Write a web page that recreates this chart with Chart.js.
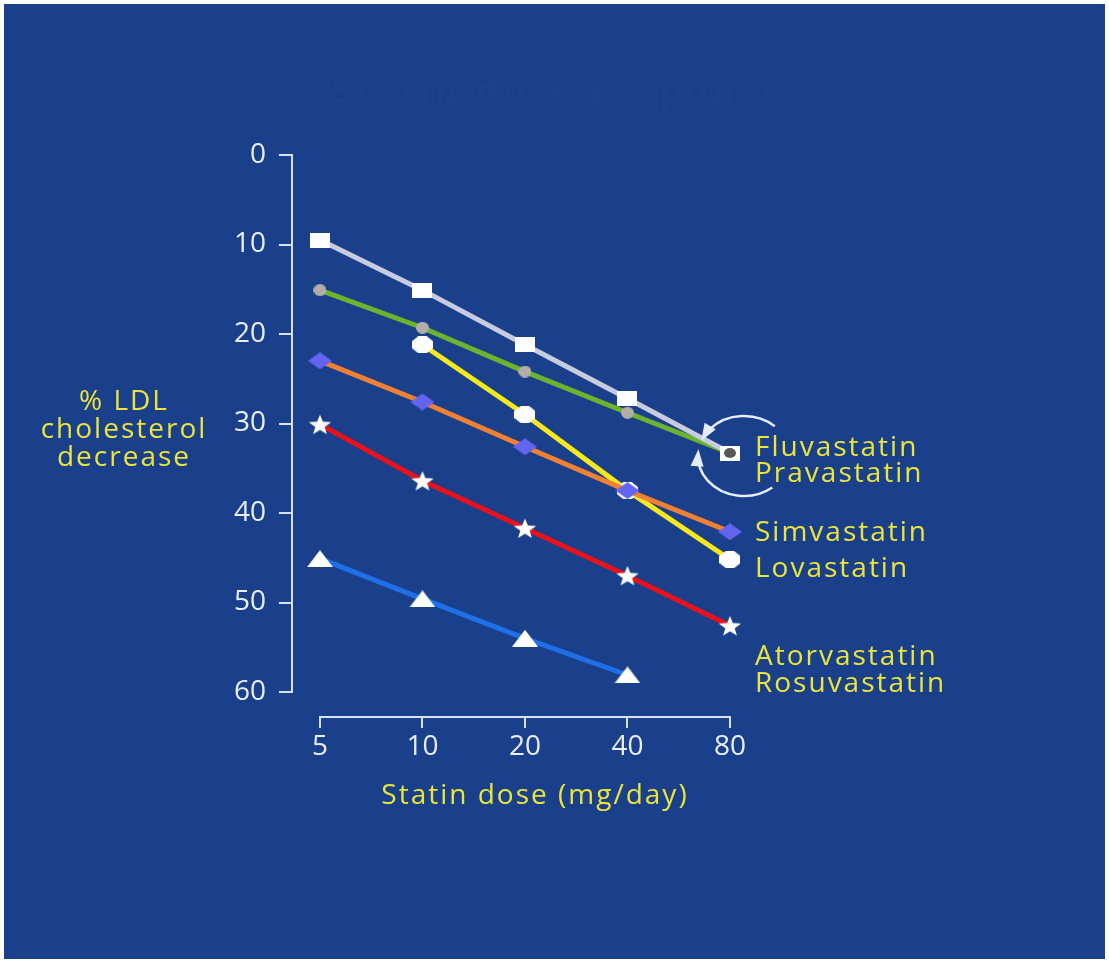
<!DOCTYPE html>
<html>
<head>
<meta charset="utf-8">
<title>Statin dose-response</title>
<script src="https://cdn.jsdelivr.net/npm/chart.js@4.4.1/dist/chart.umd.min.js"></script>
<style>
  html, body { margin: 0; padding: 0; background: #ffffff; }
  #wrap { position: absolute; left: 0; top: 0; width: 1109px; height: 963px; }
  canvas { display: block; }
</style>
</head>
<body>
<div id="wrap"><canvas id="chart" width="1109" height="963"></canvas></div>
<script>
// Dose categories (mg/day) and their tick labels
const doses = [5, 10, 20, 40, 80];
const doseLabels = ['5', '10', '20', '40', '80'];
const yTicks = [0, 10, 20, 30, 40, 50, 60];

// % LDL cholesterol decrease per dose (null = dose not available)
const fluvastatin  = [9.5, 15.1, 21.2, 27.2, 33.3];
const pravastatin  = [15.1, 19.3, 24.2, 28.8, 33.3];
const simvastatin  = [23.0, 27.6, 32.6, 37.5, 42.1];
const lovastatin   = [null, 21.2, 29.0, 37.5, 45.2];
const atorvastatin = [30.1, 36.4, 41.7, 47.0, 52.6];
const rosuvastatin = [45.1, 49.6, 54.0, 58.1, null];

const BG = '#1a408b';
const AXIS = '#d9e1f1';
const TICK_TEXT = '#e9eef8';
const YELLOW = '#ebe43a';
const FONT = '"Open Sans", "DejaVu Sans", sans-serif';

// ---- marker images ----
function marker(w, h, paint) {
  const c = document.createElement('canvas');
  c.width = w; c.height = h;
  paint(c.getContext('2d'), w, h);
  return c;
}
const squareMark = marker(20, 15, (g, w, h) => { g.fillStyle = '#ffffff'; g.fillRect(0, 0, w, h); });
const dotMark = marker(13, 12, (g, w, h) => {
  g.fillStyle = '#b3afa8'; g.beginPath(); g.ellipse(w / 2, h / 2, w / 2, h / 2, 0, 0, Math.PI * 2); g.fill();
});
const darkDotMark = marker(12, 10, (g, w, h) => {
  g.fillStyle = '#575757'; g.beginPath(); g.ellipse(w / 2, h / 2, w / 2, h / 2, 0, 0, Math.PI * 2); g.fill();
});
const diamondMark = marker(24, 17, (g, w, h) => {
  g.fillStyle = '#6464f2'; g.beginPath();
  g.moveTo(w / 2, 0); g.lineTo(w, h / 2); g.lineTo(w / 2, h); g.lineTo(0, h / 2); g.closePath(); g.fill();
});
const octagonMark = marker(21, 17, (g, w, h) => {
  g.fillStyle = '#ffffff'; g.beginPath();
  const ix = w * 0.3, iy = h * 0.3;
  g.moveTo(ix, 0); g.lineTo(w - ix, 0); g.lineTo(w, iy); g.lineTo(w, h - iy);
  g.lineTo(w - ix, h); g.lineTo(ix, h); g.lineTo(0, h - iy); g.lineTo(0, iy);
  g.closePath(); g.fill();
});
const starMark = marker(24, 22, (g, w, h) => {
  g.fillStyle = '#ffffff'; g.beginPath();
  const R = 11.8, r = 4.9, cx = w / 2, cy = h / 2 + 1;
  for (let i = 0; i < 10; i++) {
    const a = -Math.PI / 2 + i * Math.PI / 5;
    const rad = i % 2 === 0 ? R : r;
    const px = cx + rad * Math.cos(a), py = cy + rad * Math.sin(a) * 0.92;
    if (i === 0) g.moveTo(px, py); else g.lineTo(px, py);
  }
  g.closePath(); g.fill();
});
const triangleMark = marker(26, 17, (g, w, h) => {
  g.fillStyle = '#ffffff'; g.beginPath();
  g.moveTo(w / 2, 0); g.lineTo(w, h); g.lineTo(0, h); g.closePath(); g.fill();
});

function points(values) {
  return doses.map((d, i) => ({ x: d, y: values[i] })).filter(p => p.y !== null);
}

function series(label, values, color, style, order) {
  return {
    label, data: points(values), borderColor: color, borderWidth: 5,
    pointStyle: style, pointRadius: 8, pointHoverRadius: 8,
    fill: false, tension: 0, order
  };
}

const pravaStyles = pravastatin.map((v, i) => i === pravastatin.length - 1 ? darkDotMark : dotMark);

const datasets = [
  series('Fluvastatin', fluvastatin, '#c9cce0', squareMark, 1),
  series('Pravastatin', pravastatin, '#6cb42e', pravaStyles, 2),
  series('Simvastatin', simvastatin, '#ef8034', diamondMark, 1),
  series('Lovastatin', lovastatin, '#f6e81e', octagonMark, 2),
  series('Atorvastatin', atorvastatin, '#e8121d', starMark, 1),
  series('Rosuvastatin', rosuvastatin, '#1e6fe8', triangleMark, 1)
];

// ---- decorations drawn around the plot ----
function spacedText(ctx, text, x, y, align, font, color, spacing) {
  ctx.save();
  ctx.font = font;
  ctx.fillStyle = color;
  ctx.textAlign = align;
  ctx.textBaseline = 'alphabetic';
  ctx.letterSpacing = spacing + 'px';
  ctx.fillText(text, align === 'center' ? x + spacing / 2 : x, y);
  ctx.restore();
}

function arrowHead(ctx, x, y, dx, dy) {
  const len = Math.hypot(dx, dy), ux = dx / len, uy = dy / len;
  const L = 13, W = 6.5;
  ctx.beginPath();
  ctx.moveTo(x + ux * 4, y + uy * 4);
  ctx.lineTo(x - ux * L + uy * W, y - uy * L - ux * W);
  ctx.lineTo(x - ux * L - uy * W, y - uy * L + ux * W);
  ctx.closePath();
  ctx.fill();
}

const backdrop = {
  id: 'backdrop',
  beforeDraw(chart) {
    const ctx = chart.ctx;
    ctx.save();
    ctx.fillStyle = '#ffffff';
    ctx.fillRect(0, 0, chart.width, chart.height);
    ctx.fillStyle = BG;
    ctx.fillRect(4, 4, 1101, 955);
    ctx.restore();
    // faint slide heading
    spacedText(ctx, 'Statin dose-response', 557, 103, 'center', 'bold 36px ' + FONT, '#1c428e', 4);
  }
};

const annotations = {
  id: 'annotations',
  afterDatasetsDraw(chart) {
    const ctx = chart.ctx;
    const xs = chart.scales.x, ys = chart.scales.y;

    // bring the shared 80 mg Pravastatin point on top of the Fluvastatin square
    const pm = chart.getDatasetMeta(1);
    const last = pm.data[pm.data.length - 1];
    if (last) last.draw(ctx, chart.chartArea);

    // horizontal dose axis with downward ticks
    const yBase = chart.chartArea.bottom + 25;
    const x0 = xs.getPixelForValue(doses[0]);
    const x1 = xs.getPixelForValue(doses[doses.length - 1]);
    ctx.save();
    ctx.strokeStyle = AXIS;
    ctx.lineWidth = 2;
    ctx.beginPath();
    ctx.moveTo(x0, yBase); ctx.lineTo(x1, yBase);
    doses.forEach(d => {
      const px = Math.round(xs.getPixelForValue(d));
      ctx.moveTo(px, yBase - 1); ctx.lineTo(px, yBase + 11);
    });
    ctx.stroke();
    ctx.restore();

    // axis titles
    const titleFont = '28px ' + FONT;
    spacedText(ctx, 'Statin dose (mg/day)', (x0 + x1) / 2 + 9, yBase + 87, 'center', titleFont, YELLOW, 2);
    const ly = ys.getPixelForValue(30.9);
    const lx = chart.chartArea.left - 169;
    spacedText(ctx, '% LDL', lx, ly - 22, 'center', titleFont, YELLOW, 2);
    spacedText(ctx, 'cholesterol', lx, ly + 6, 'center', titleFont, YELLOW, 2);
    spacedText(ctx, 'decrease', lx, ly + 34, 'center', titleFont, YELLOW, 2);

    // series names at the right end
    const nx = x1 + 25;
    const yF = ys.getPixelForValue(fluvastatin[4]);
    const yS = ys.getPixelForValue(simvastatin[4]);
    const yL = ys.getPixelForValue(lovastatin[4]);
    const yA = ys.getPixelForValue(atorvastatin[4]);
    spacedText(ctx, 'Fluvastatin', nx, yF + 3, 'left', titleFont, YELLOW, 2);
    spacedText(ctx, 'Pravastatin', nx, yF + 29, 'left', titleFont, YELLOW, 2);
    spacedText(ctx, 'Simvastatin', nx, yS + 9, 'left', titleFont, YELLOW, 2);
    spacedText(ctx, 'Lovastatin', nx, yL + 17, 'left', titleFont, YELLOW, 2);
    spacedText(ctx, 'Atorvastatin', nx, yA + 39, 'left', titleFont, YELLOW, 2);
    spacedText(ctx, 'Rosuvastatin', nx, yA + 66, 'left', titleFont, YELLOW, 2);

    // curved arrows pointing at the shared endpoint
    const px = xs.getPixelForValue(80), py = yF;
    const cx = px + 14, cy = py + 3, rx = 46, ry = 40;
    ctx.save();
    ctx.strokeStyle = '#e6ecf7';
    ctx.fillStyle = '#e6ecf7';
    ctx.lineWidth = 2.5;
    const a0 = -48 * Math.PI / 180, a1 = -152 * Math.PI / 180;
    ctx.beginPath(); ctx.ellipse(cx, cy, rx, ry, 0, a0, a1, true); ctx.stroke();
    arrowHead(ctx, cx + rx * Math.cos(a1), cy + ry * Math.sin(a1), rx * Math.sin(a1), -ry * Math.cos(a1));
    const b0 = 52 * Math.PI / 180, b1 = 184 * Math.PI / 180;
    ctx.beginPath(); ctx.ellipse(cx, cy, rx, ry, 0, b0, b1, false); ctx.stroke();
    arrowHead(ctx, cx + rx * Math.cos(b1), cy + ry * Math.sin(b1), -rx * Math.sin(b1), ry * Math.cos(b1));
    ctx.restore();
  }
};

new Chart(document.getElementById('chart'), {
  type: 'line',
  data: { datasets },
  plugins: [backdrop, annotations],
  options: {
    responsive: false,
    animation: false,
    devicePixelRatio: 1,
    layout: { padding: { left: 232, right: 349, top: 155, bottom: 171 } },
    plugins: { legend: { display: false }, tooltip: { enabled: false }, title: { display: false } },
    events: [],
    scales: {
      x: {
        type: 'logarithmic',
        min: 4.1378,
        max: 98.0,
        afterBuildTicks(scale) { scale.ticks = doses.map(v => ({ value: v })); },
        afterFit(scale) { scale.height = 100; },
        grid: { display: false, drawTicks: false },
        border: { display: false },
        ticks: {
          autoSkip: false, maxRotation: 0, padding: 38,
          color: TICK_TEXT, font: { family: FONT, size: 28 },
          callback(value) { const i = doses.indexOf(value); return i >= 0 ? doseLabels[i] : ''; }
        }
      },
      y: {
        type: 'linear',
        reverse: true,
        min: yTicks[0],
        max: yTicks[yTicks.length - 1],
        afterBuildTicks(scale) { scale.ticks = yTicks.map(v => ({ value: v })); },
        afterFit(scale) { scale.width = 60; },
        grid: { drawOnChartArea: false, drawTicks: true, tickLength: 13, color: AXIS, lineWidth: 2 },
        border: { display: true, color: AXIS, width: 2 },
        ticks: { padding: 13, color: TICK_TEXT, font: { family: FONT, size: 28 } }
      }
    }
  }
});
</script>
</body>
</html>
